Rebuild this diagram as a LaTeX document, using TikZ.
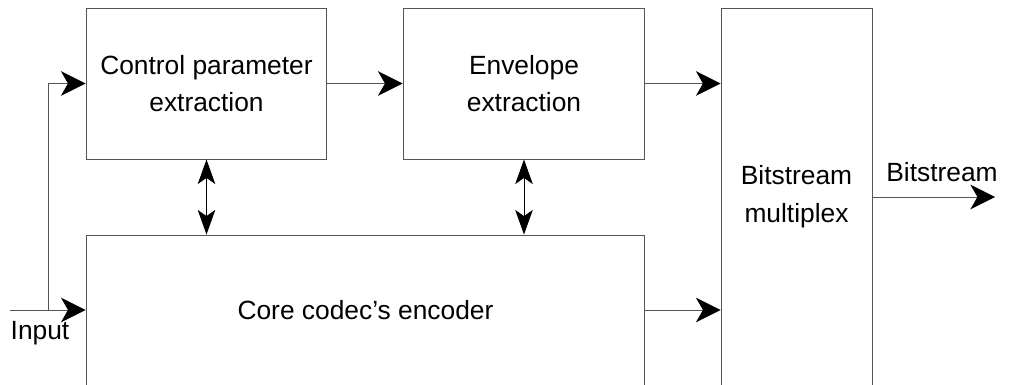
\documentclass[tikz,border=0pt]{standalone}
\usepackage{fontspec}
\setmainfont{Liberation Sans}
\usetikzlibrary{arrows.meta}
\definecolor{edge}{RGB}{85, 85, 85}

\begin{document}
\begin{tikzpicture}[x=0.02cm, y=-0.02cm,
    block/.style={draw=edge, line width=0.55pt, align=center, inner sep=0pt,
      font=\fontsize{15}{21.5}\selectfont},
    flow/.style={draw=edge, line width=0.55pt,
      -{Stealth[length=14pt, width=14pt, inset=4pt, color=black]}},
    both/.style={draw=black, line width=0.55pt,
      {Stealth[length=14pt, width=10pt, inset=3.5pt]}-{Stealth[length=14pt, width=10pt, inset=3.5pt]}},
    lbl/.style={font=\fontsize{15}{18}\selectfont, inner sep=0pt}]
      \useasboundingbox (0, 0) rectangle (1009, 385);
      \clip (0, 0) rectangle (1009, 385);
      \node[block, minimum width=4.82cm, minimum height=3.02cm](cpe) at (206.5, 83.5) {Control parameter\\extraction};
      \node[block, minimum width=4.84cm, minimum height=3.02cm](env) at (524, 83.5) {Envelope\\extraction};
      \node[block, minimum width=11.18cm, minimum height=3.02cm](core) at (365.5, 310.5) {Core codec’s encoder};
      \node[block, minimum width=3.02cm, minimum height=7.56cm](mux) at (796.5, 197) {Bitstream\\multiplex};
      \coordinate(in) at (10, 310);
      \coordinate(split) at (48, 310);
      \coordinate(out) at (995, 197);
      \node[lbl](inlbl) at (40, 333) {Input};
      \node[lbl](outlbl) at (942, 172) {Bitstream};
      \draw[flow] (in) -- (core.west |- in);
      \draw[flow] (split) |- (cpe.west);
      \draw[flow] (cpe.east) -- (env.west);
      \draw[flow] (env.east) -- (mux.west |- env.east);
      \draw[flow] (core.east |- in) -- (mux.west |- in);
      \draw[flow] (mux.east |- out) -- (out);
      \draw[both] (cpe.south) -- (cpe.south |- core.north);
      \draw[both] (env.south) -- (env.south |- core.north);
    \end{tikzpicture}
\end{document}
